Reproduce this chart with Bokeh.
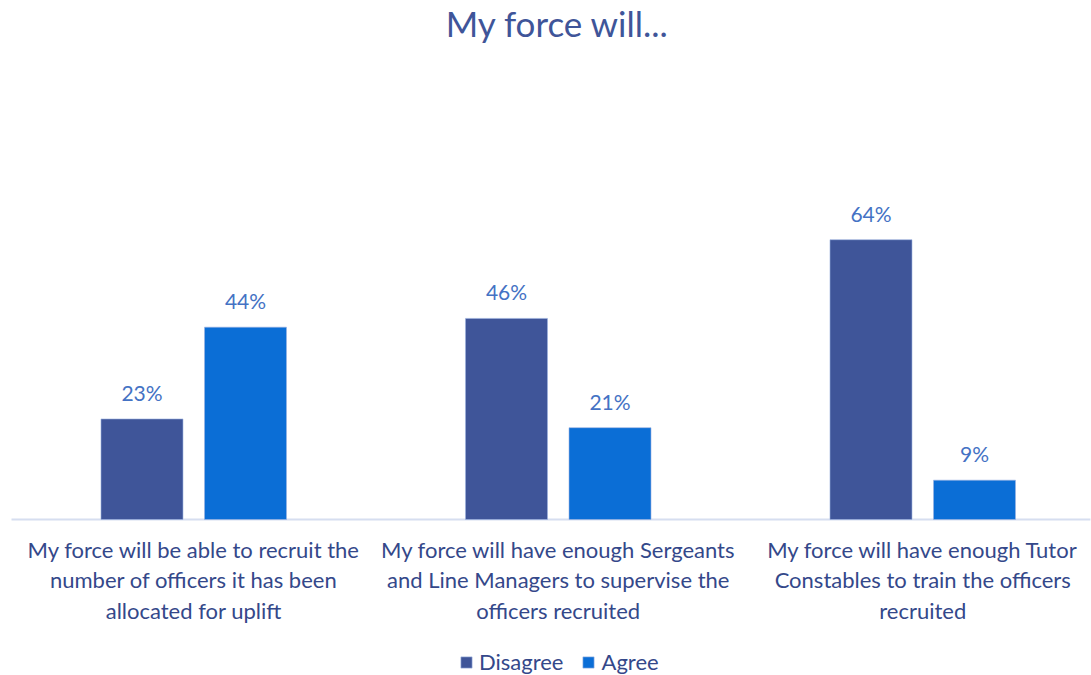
from bokeh.plotting import figure
from bokeh.models import Range1d, ColumnDataSource, Legend, LegendItem, Label
from bokeh.core.properties import value
from bokeh.embed import file_html
from bokeh.resources import INLINE

title_text = "My force will..."
categories = [
    "My force will be able to recruit the\nnumber of officers it has been\nallocated for uplift",
    "My force will have enough Sergeants\nand Line Managers to supervise the\nofficers recruited",
    "My force will have enough Tutor\nConstables to train the officers\nrecruited",
]
disagree = [23, 46, 64]
agree = [44, 21, 9]
series_names = ["Disagree", "Agree"]
colors = ["#3F5599", "#0B6ED6"]

FONT = "Lato"
W, H = 1091, 675
px_x = 364.5          # pixels per category
px_y = 459 / 105      # pixels per percent
left_pad, base_y = 11, 519

centers = [i + 0.5 for i in range(len(categories))]
offset = 0.142
bw = 0.225

x0 = -left_pad / px_x
y0 = -(H - base_y) / px_y
p = figure(frame_width=W, frame_height=H, output_backend="svg", toolbar_location=None,
           x_range=Range1d(x0, x0 + W / px_x), y_range=Range1d(y0, y0 + H / px_y),
           min_border=0)
p.outline_line_color = None
p.xgrid.visible = False
p.ygrid.visible = False
p.axis.visible = False
p.title.visible = False

# title
p.add_layout(Label(x=557, y=H - 22, x_units="screen", y_units="screen", text=title_text,
                   text_align="center", text_baseline="middle", text_font=FONT,
                   text_font_size="35px", text_color="#3F5599"))

# baseline (category axis line)
p.segment(x0=[0], y0=[0], x1=[len(categories) - 0.04], y1=[0],
          line_color="#D6DEF0", line_width=2)

renderers = []
for k, (vals, off) in enumerate([(disagree, -offset), (agree, offset)]):
    src = ColumnDataSource(dict(x=[c + off for c in centers], top=vals,
                                lab=[f"{v}%" for v in vals]))
    r = p.vbar(x="x", top="top", width=bw, source=src, fill_color=colors[k],
               line_color="#9DB4E0", line_width=0.6)
    renderers.append(r)
    p.text(x="x", y="top", text="lab", source=src, text_align="center",
           text_baseline="bottom", y_offset=-14, text_font=value(FONT),
           text_font_size="21px", text_color="#4472C4")

# category labels
cat_src = ColumnDataSource(dict(x=centers, y=[0] * len(centers), t=categories))
p.text(x="x", y="y", text="t", source=cat_src, text_align="center", text_baseline="top",
       y_offset=16, text_font=value(FONT), text_font_size="22px",
       text_line_height=1.136, text_color="#34488A")

legend = Legend(items=[LegendItem(label=series_names[i], renderers=[renderers[i]]) for i in range(2)],
                orientation="horizontal", location=(459, 0))
legend.label_text_font = FONT
legend.label_text_font_size = "22px"
legend.label_text_color = "#34488A"
legend.border_line_color = None
legend.background_fill_alpha = 0
legend.glyph_width = 14
legend.glyph_height = 14
legend.spacing = 18
legend.label_standoff = 6
legend.padding = 0
legend.margin = 0
p.add_layout(legend)

open("out.html", "w").write(file_html(p, INLINE))
